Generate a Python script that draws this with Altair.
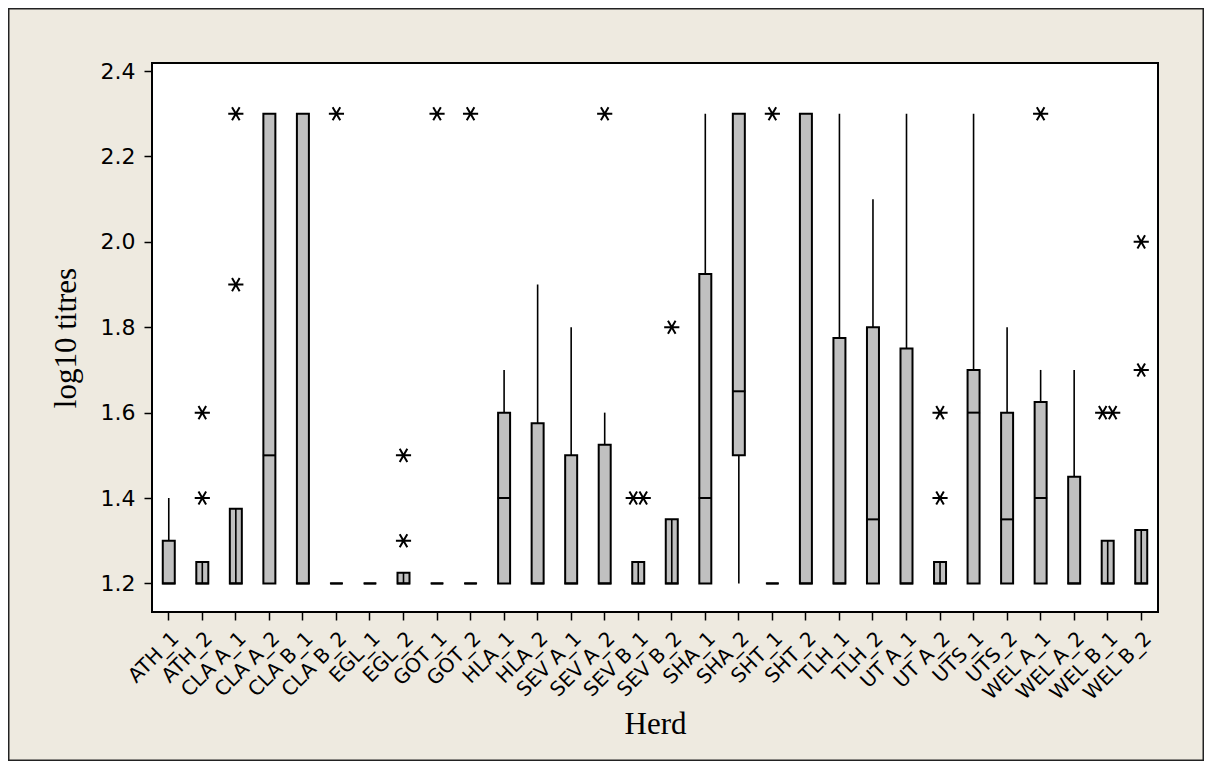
import altair as alt
import pandas as pd

herds = ["ATH_1", "ATH_2", "CLA A_1", "CLA A_2", "CLA B_1", "CLA B_2", "EGL_1", "EGL_2",
         "GOT_1", "GOT_2", "HLA_1", "HLA_2", "SEV A_1", "SEV A_2", "SEV B_1", "SEV B_2",
         "SHA_1", "SHA_2", "SHT_1", "SHT_2", "TLH_1", "TLH_2", "UT A_1", "UT A_2",
         "UTS_1", "UTS_2", "WEL A_1", "WEL A_2", "WEL B_1", "WEL B_2"]

q1 = [1.2, 1.2, 1.2, 1.2, 1.2, 1.2, 1.2, 1.2, 1.2, 1.2, 1.2, 1.2, 1.2, 1.2, 1.2, 1.2,
      1.2, 1.5, 1.2, 1.2, 1.2, 1.2, 1.2, 1.2, 1.2, 1.2, 1.2, 1.2, 1.2, 1.2]
median = [1.2, 1.2, 1.2, 1.5, 1.2, 1.2, 1.2, 1.2, 1.2, 1.2, 1.4, 1.2, 1.2, 1.2, 1.2, 1.2,
          1.4, 1.65, 1.2, 1.2, 1.2, 1.35, 1.2, 1.2, 1.6, 1.35, 1.4, 1.2, 1.2, 1.2]
q3 = [1.30, 1.25, 1.375, 2.3, 2.3, 1.2, 1.2, 1.225, 1.2, 1.2, 1.6, 1.575, 1.5, 1.525, 1.25, 1.35,
      1.925, 2.3, 1.2, 2.3, 1.775, 1.8, 1.75, 1.25, 1.7, 1.6, 1.625, 1.45, 1.3, 1.325]
whisker_low = [1.2] * 30
whisker_high = [1.4, 1.25, 1.375, 2.3, 2.3, 1.2, 1.2, 1.225, 1.2, 1.2, 1.7, 1.9, 1.8, 1.6, 1.25, 1.35,
                2.3, 2.3, 1.2, 2.3, 2.3, 2.1, 2.3, 1.25, 2.3, 1.8, 1.7, 1.7, 1.3, 1.325]

# boxes drawn by the original software with a centre line inside
centre_line_herds = ["ATH_2", "CLA A_1", "EGL_2", "SEV B_1", "SEV B_2", "UT A_2", "WEL B_1", "WEL B_2"]

outlier_herd = ["ATH_2", "ATH_2", "CLA A_1", "CLA A_1", "CLA B_2", "EGL_2", "EGL_2", "GOT_1", "GOT_2",
                "SEV A_2", "SEV B_1", "SEV B_1", "SEV B_2", "SHT_1", "UT A_2", "UT A_2", "WEL A_1",
                "WEL B_1", "WEL B_1", "WEL B_2", "WEL B_2"]
outlier_value = [1.4, 1.6, 1.9, 2.3, 2.3, 1.3, 1.5, 2.3, 2.3,
                 2.3, 1.4, 1.4, 1.8, 2.3, 1.4, 1.6, 2.3,
                 1.6, 1.6, 1.7, 2.0]
outlier_slot = [0, 0, 0, 0, 0, 0, 0, 0, 0,
                0, -1, 1, 0, 0, 0, 0, 0,
                -1, 1, 0, 0]

y_ticks = [1.2, 1.4, 1.6, 1.8, 2.0, 2.2, 2.4]

boxes = pd.DataFrame({"herd": herds, "q1": q1, "median": median, "q3": q3,
                      "wlo": whisker_low, "whi": whisker_high})
boxes["centre"] = boxes["herd"].isin(centre_line_herds)
outliers = pd.DataFrame({"herd": outlier_herd, "value": outlier_value, "slot": outlier_slot})

W, H = 1006, 549
BAND = W / len(herds)
BOX_W = 12

x_enc = alt.X("herd:N", sort=herds, title="Herd",
              scale=alt.Scale(paddingInner=0, paddingOuter=0),
              axis=alt.Axis(labelAngle=-45, labelFont="DejaVu Sans", labelFontSize=20,
                            labelColor="black", tickColor="black", tickSize=8, tickWidth=1.5,
                            labelPadding=8, domain=False, grid=False,
                            titleFont="Liberation Serif", titleFontSize=31, titleFontWeight="normal",
                            titleColor="black", titlePadding=6))
y_scale = alt.Scale(domain=[1.133, 2.419], nice=False, zero=False)
y_axis = alt.Axis(values=y_ticks, format=".1f", labelFont="DejaVu Sans", labelFontSize=22,
                  labelColor="black", tickColor="black", tickSize=8, tickWidth=1.5,
                  labelPadding=9, domain=False, grid=False,
                  titleFont="Liberation Serif", titleFontSize=31, titleFontWeight="normal",
                  titleColor="black", titlePadding=18)

base = alt.Chart(boxes)

whiskers = base.mark_rule(color="black", strokeWidth=1.6).encode(
    x=x_enc,
    y=alt.Y("wlo:Q", scale=y_scale, axis=y_axis, title="log10 titres"),
    y2="whi:Q",
)

box = base.mark_bar(size=BOX_W, fill="#C0C0C0", stroke="black", strokeWidth=2, opacity=1).encode(
    x=alt.X("herd:N", sort=herds),
    y=alt.Y("q1:Q", scale=y_scale),
    y2="q3:Q",
)

centre = base.transform_filter("datum.centre").mark_rule(color="black", strokeWidth=1.6).encode(
    x=alt.X("herd:N", sort=herds),
    y=alt.Y("q1:Q", scale=y_scale),
    y2="q3:Q",
)

med = base.mark_tick(color="black", size=BOX_W + 1, thickness=2, orient="horizontal",
                     opacity=1).encode(
    x=alt.X("herd:N", sort=herds),
    y=alt.Y("median:Q", scale=y_scale),
)

star = "M-1,0L1,0M-0.5,-0.866L0.5,0.866M-0.5,0.866L0.5,-0.866"
points = alt.Chart(outliers).mark_point(shape=star, size=230, filled=False, color="black",
                                         strokeWidth=2, opacity=1).encode(
    x=alt.X("herd:N", sort=herds),
    xOffset=alt.XOffset("slot:Q", scale=alt.Scale(domain=[-1, 1],
                                                  range=[BAND / 2 - 5, BAND / 2 + 5])),
    y=alt.Y("value:Q", scale=y_scale),
)

frame = alt.Chart(pd.DataFrame({"k": [0]})).mark_rect(
    fill=None, stroke="#222222", strokeWidth=1.5
).encode(
    x=alt.value(-143.25), x2=alt.value(W + 45.25),
    y=alt.value(-54.25), y2=alt.value(H + 148.25),
)

chart = alt.layer(whiskers, box, centre, med, points, frame).properties(
    width=W, height=H,
    background="#EEEAE0",
    padding={"left": 144, "top": 55, "right": 46, "bottom": 149},
    autosize=alt.AutoSizeParams(type="none"),
).configure_view(
    fill="white", stroke="black", strokeWidth=2
)

chart.save("out.html", embed_options={"renderer": "svg", "actions": False})
